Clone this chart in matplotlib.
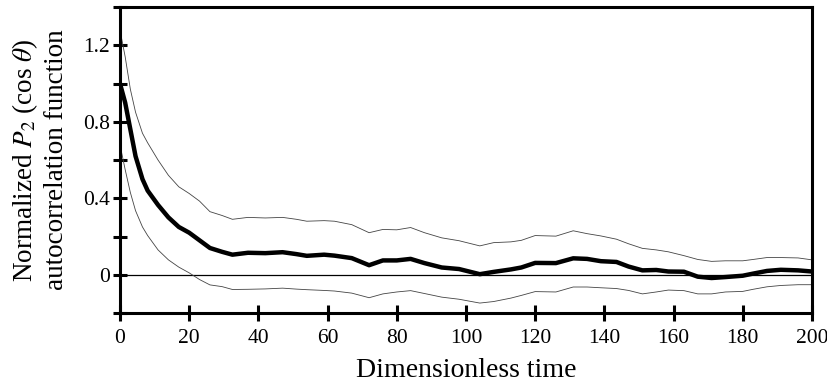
import matplotlib
matplotlib.use("Agg")
import matplotlib.pyplot as plt
from matplotlib.ticker import FixedLocator, FixedFormatter

plt.rcParams['font.family'] = ['Liberation Serif', 'DejaVu Serif']
plt.rcParams['mathtext.fontset'] = 'stix'

# time points
t = [0, 1.5, 3, 4.5, 6.5, 8, 11, 14, 17, 20, 23, 26, 29.5, 32.5, 37, 42, 47, 51,
     54, 59, 62, 67, 72, 76, 80, 84, 88, 93, 98, 104, 108, 113, 116, 120, 126,
     131, 135, 139, 143.5, 147, 151, 155, 158.5, 163, 167, 171, 175, 180, 183,
     187, 191, 196, 200]

# mean autocorrelation (thick line)
mean_acf = [1.0, 0.90, 0.76, 0.62, 0.50, 0.44, 0.365, 0.30, 0.25, 0.22, 0.18,
            0.14, 0.12, 0.105, 0.115, 0.113, 0.118, 0.108, 0.099, 0.105, 0.10,
            0.087, 0.05, 0.075, 0.075, 0.083, 0.061, 0.038, 0.03, 0.003, 0.015,
            0.028, 0.038, 0.062, 0.061, 0.086, 0.083, 0.071, 0.067, 0.043,
            0.023, 0.025, 0.017, 0.016, -0.01, -0.017, -0.012, -0.005, 0.006,
            0.02, 0.026, 0.023, 0.017]

# upper / lower envelopes (thin lines)
upper_acf = [1.28, 1.14, 0.97, 0.85, 0.74, 0.69, 0.60, 0.52, 0.46, 0.425, 0.385,
             0.33, 0.31, 0.29, 0.30, 0.297, 0.30, 0.29, 0.28, 0.283, 0.28,
             0.262, 0.22, 0.237, 0.235, 0.247, 0.22, 0.193, 0.178, 0.151,
             0.168, 0.172, 0.18, 0.205, 0.202, 0.23, 0.215, 0.203, 0.186,
             0.162, 0.138, 0.13, 0.12, 0.10, 0.08, 0.07, 0.073, 0.073, 0.08,
             0.09, 0.09, 0.088, 0.078]

lower_acf = [0.68, 0.55, 0.43, 0.335, 0.25, 0.205, 0.13, 0.078, 0.04, 0.01,
             -0.025, -0.053, -0.062, -0.077, -0.076, -0.074, -0.07, -0.075,
             -0.078, -0.082, -0.085, -0.096, -0.12, -0.1, -0.09, -0.083,
             -0.098, -0.117, -0.128, -0.148, -0.14, -0.122, -0.108, -0.088,
             -0.09, -0.064, -0.064, -0.068, -0.072, -0.082, -0.1, -0.09, -0.08,
             -0.083, -0.1, -0.1, -0.09, -0.087, -0.076, -0.063, -0.056, -0.052,
             -0.052]

x_ticks = [0, 20, 40, 60, 80, 100, 120, 140, 160, 180, 200]
y_ticks = [-0.2, 0, 0.2, 0.4, 0.6, 0.8, 1.0, 1.2, 1.4]
y_labels = ['', '0', '', '0.4', '', '0.8', '', '1.2', '']

fig = plt.figure(figsize=(8.28, 3.82), dpi=100)
ax = fig.add_axes([0.1449, 0.1806, 0.8357, 0.8010])

ax.axhline(0, color='black', lw=0.9, zorder=1)
ax.plot(t, upper_acf, color='#444444', lw=0.6)
ax.plot(t, lower_acf, color='#444444', lw=0.6)
ax.plot(t, mean_acf, color='black', lw=3.2, solid_joinstyle='round')

ax.set_xlim(0, 200)
ax.set_ylim(-0.2, 1.4)

ax.xaxis.set_major_locator(FixedLocator(x_ticks))
ax.yaxis.set_major_locator(FixedLocator(y_ticks))
ax.yaxis.set_major_formatter(FixedFormatter(y_labels))

for side in ['left', 'right', 'top', 'bottom']:
    ax.spines[side].set_linewidth(2.2)

ax.tick_params(axis='x', direction='inout', length=11, width=2.2, pad=6,
               labelsize=15.5)
ax.tick_params(axis='y', direction='inout', length=10, width=2.2, pad=2,
               labelsize=15.5)

ax.set_xlabel('Dimensionless time', fontsize=20, labelpad=7)
ax.set_ylabel('Normalized $P_2$ (cos $\\theta$)\nautocorrelation function',
              fontsize=19.5, labelpad=10, linespacing=1.25)

fig.savefig('out.png', dpi=100)
